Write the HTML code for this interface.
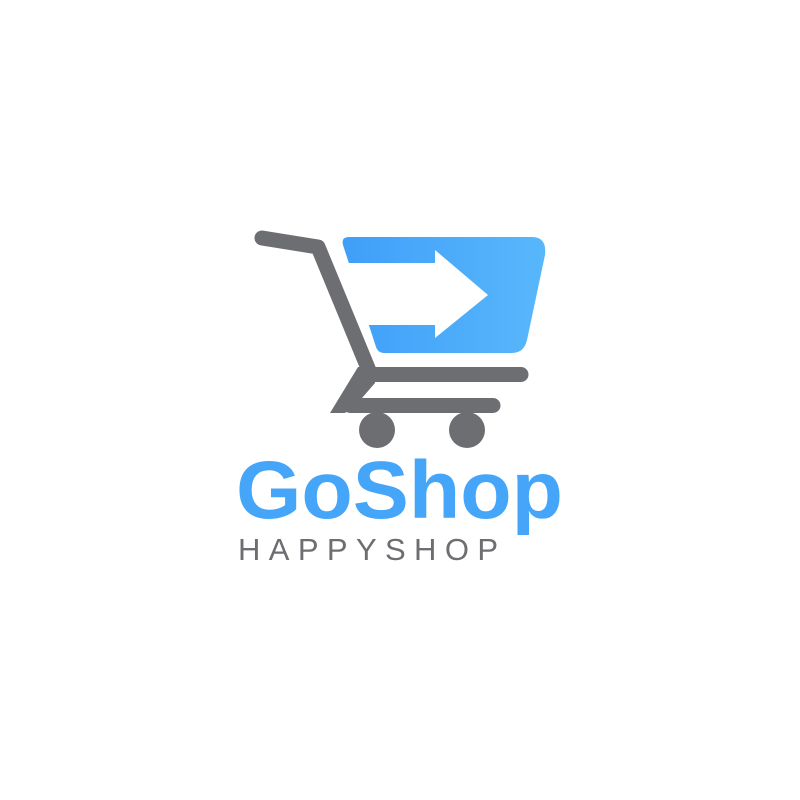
<!DOCTYPE html>
<html><head><meta charset="utf-8"><style>
html,body{margin:0;padding:0;background:#fff;width:800px;height:800px;overflow:hidden}
</style></head><body>
<svg width="800" height="800" viewBox="0 0 800 800">
<defs>
<linearGradient id="bg" x1="0" x2="1" y1="0" y2="0">
<stop offset="0" stop-color="#3f9ff8"/><stop offset="1" stop-color="#58b7fb"/>
</linearGradient>
</defs>
<g>
<path d="M349 237 L532 237 Q547 237 545 255 L527 340 Q524 353 512 353 L384 353 Q378 353 376 347 L343 245 Q341 237 349 237 Z" fill="url(#bg)"/>
<polygon points="330,263 435,263 435,250 488,295 435,338 435,325 330,325" fill="#fff"/>
</g>
<g fill="#6d6e71" stroke="#6d6e71">
<polyline points="262,238 318,247 370,373" fill="none" stroke-width="15" stroke-linecap="round" stroke-linejoin="round"/>
<line x1="372" y1="374.5" x2="521" y2="374.5" stroke-width="15" stroke-linecap="round"/>
<line x1="350" y1="405.5" x2="493" y2="405.5" stroke-width="15" stroke-linecap="round"/>
<polygon points="358,367 375,367 375,383 362,398 345,413 330,413" stroke="none"/>
<circle cx="377" cy="430" r="18" stroke="none"/>
<circle cx="467" cy="430" r="18" stroke="none"/>
</g>
<text x="236" y="518" font-family="Liberation Sans, sans-serif" font-weight="bold" font-size="82" fill="#45a5f8" textLength="327" lengthAdjust="spacingAndGlyphs">GoShop</text>
<text x="238" y="560" font-family="Liberation Sans, sans-serif" font-size="31" fill="#6d6e71" textLength="260" lengthAdjust="spacing">HAPPYSHOP</text>
</svg>
</body></html>
